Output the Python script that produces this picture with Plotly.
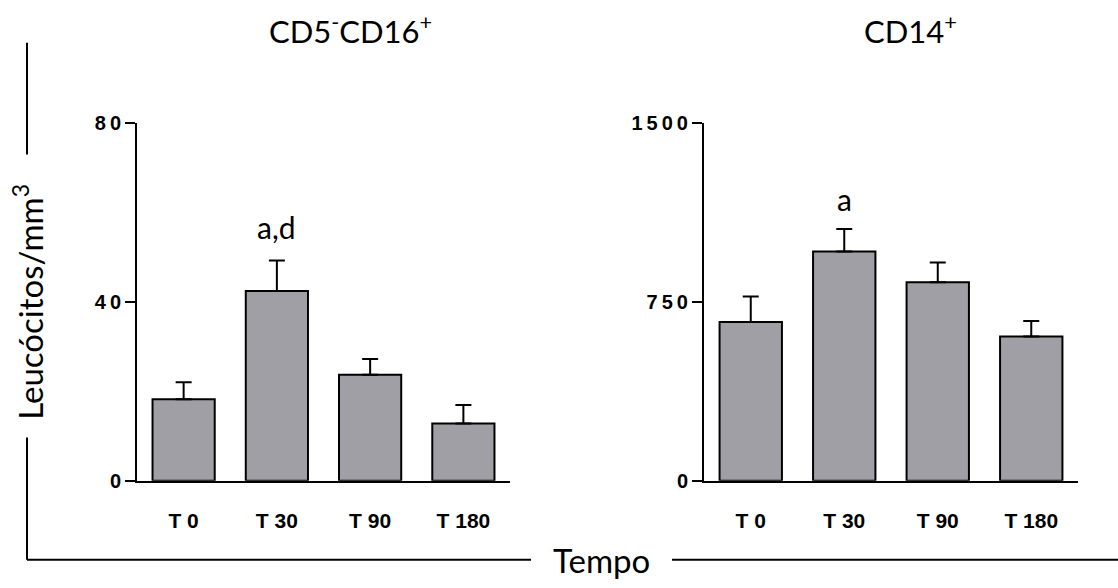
import plotly.graph_objects as go

# Sampling times and group means (leucocytes / mm3) with SEM
times = ["T 0", "T 30", "T 90", "T 180"]

cd16_mean = [18.2, 42.4, 23.7, 12.8]
cd16_sem = [3.8, 6.8, 3.5, 4.1]

cd14_mean = [665, 960, 832, 604]
cd14_sem = [107, 95, 82, 65]

TS = "\u2009"  # thin space used to open up the tick digits
cd16_ticks = [0, 40, 80]
cd16_ticktext = ["0", f"4{TS}0", f"8{TS}0"]
cd14_ticks = [0, 750, 1500]
cd14_ticktext = ["0", f"7{TS}5{TS}0", f"1{TS}5{TS}0{TS}0"]

W, H = 1118, 588
BAR_FILL = "#a09fa5"
TEXT_FONT = "Lato"
XTICK_FONT = dict(family="Liberation Sans, Arial", size=21, color="black", weight="bold")
YTICK_FONT = dict(family="Liberation Sans, Arial", size=20, color="black", weight="bold")


def px_x(x):
    return x / W


def px_y(y):
    return 1 - y / H


fig = go.Figure()

panels = [
    ("x", "y", cd16_mean, cd16_sem),
    ("x2", "y2", cd14_mean, cd14_sem),
]
for xa, ya, mean, sem in panels:
    fig.add_trace(go.Bar(
        x=times, y=mean, xaxis=xa, yaxis=ya,
        width=0.667,
        marker=dict(color=BAR_FILL, line=dict(color="black", width=2)),
        error_y=dict(type="data", array=sem, symmetric=False,
                     arrayminus=[0] * len(sem),
                     color="black", thickness=2, width=8),
        showlegend=False,
    ))

axis_common = dict(showgrid=False, zeroline=False, showline=True,
                   linecolor="black", linewidth=2)
xaxis_common = dict(range=[-0.5, 3.5], ticks="", tickfont=XTICK_FONT,
                    ticklabelstandoff=20, **axis_common)
yaxis_common = dict(domain=[px_y(488), px_y(116)], tickmode="array",
                    ticks="outside", ticklen=10, tickwidth=2,
                    tickcolor="black", tickfont=YTICK_FONT, **axis_common)

fig.update_layout(
    width=W, height=H,
    margin=dict(l=0, r=0, t=0, b=0),
    paper_bgcolor="white", plot_bgcolor="white",
    xaxis=dict(domain=[px_x(137), px_x(510)], anchor="y", **xaxis_common),
    yaxis=dict(range=[0, 80], anchor="x", tickvals=cd16_ticks,
               ticktext=cd16_ticktext, **yaxis_common),
    xaxis2=dict(domain=[px_x(704), px_x(1078)], anchor="y2", **xaxis_common),
    yaxis2=dict(range=[0, 1500], anchor="x2", tickvals=cd14_ticks,
                ticktext=cd14_ticktext, **yaxis_common),
)


def tfont(size):
    return dict(family=TEXT_FONT, size=size, color="black")


annotations = [
    dict(text="CD5<sup>-</sup>CD16<sup>+</sup>", x=px_x(350), y=px_y(19), font=tfont(31)),
    dict(text="CD14<sup>+</sup>", x=px_x(910), y=px_y(19), font=tfont(31)),
    dict(text="Tempo", x=px_x(601), y=px_y(570), font=tfont(33)),
    dict(text="Leucócitos/mm<sup>3</sup>", x=px_x(28), y=px_y(302),
         textangle=-90, font=tfont(33)),
]
for a in annotations:
    fig.add_annotation(xref="paper", yref="paper", showarrow=False,
                       xanchor="center", yanchor="middle", **a)

# significance letters above the T30 bars
fig.add_annotation(xref="x", yref="y", x=times[1], y=cd16_mean[1] + cd16_sem[1],
                   text="a,d", showarrow=False, yanchor="bottom", yshift=14,
                   font=tfont(30))
fig.add_annotation(xref="x2", yref="y2", x=times[1], y=cd14_mean[1] + cd14_sem[1],
                   text="a", showarrow=False, yanchor="bottom", yshift=10,
                   font=tfont(30))

# framing lines around the shared axis labels
line = dict(color="black", width=2)
for x0, y0, x1, y1 in [
    (27, 33, 27, 149),
    (27, 443, 27, 570),
    (27, 570, 531, 570),
    (672, 570, 1118, 570),
]:
    fig.add_shape(type="line", xref="paper", yref="paper",
                  x0=px_x(x0), y0=px_y(y0), x1=px_x(x1), y1=px_y(y1), line=line)

fig.write_html("out.html")
